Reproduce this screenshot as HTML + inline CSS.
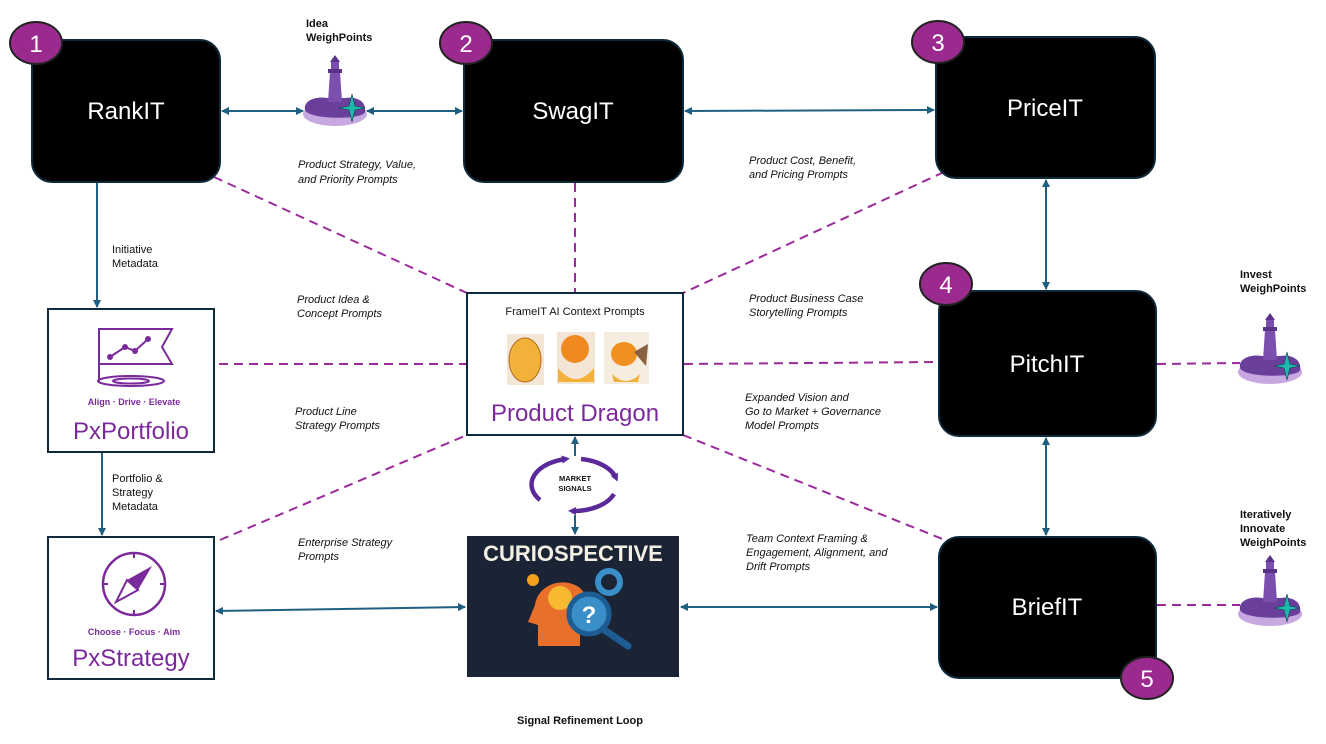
<!DOCTYPE html>
<html><head><meta charset="utf-8"><style>
body{margin:0;background:#fff;}
svg{display:block;font-family:"Liberation Sans",sans-serif;}
.it{font-style:italic;font-size:11px;fill:#111;}
.nm{font-size:11px;fill:#111;}
.bd{font-weight:bold;font-size:11px;fill:#111;}
.big{font-size:24px;fill:#fff;}
.badge{font-size:24px;fill:#fff;}
</style></head><body>
<svg width="1326" height="744" viewBox="0 0 1326 744">
<defs>
<marker id="a" markerWidth="8" markerHeight="8" refX="7" refY="4" orient="auto-start-reverse" markerUnits="userSpaceOnUse"><path d="M0,0 L8,4 L0,8 z" fill="#1f5f7f"/></marker>
<marker id="p" markerWidth="8" markerHeight="8" refX="4" refY="4" orient="auto" markerUnits="userSpaceOnUse"><path d="M0,0 L8,4 L0,8 z" fill="#5a2a9b"/></marker>
<g id="lh">
<ellipse cx="0" cy="4" rx="32" ry="12" fill="#c7a8e0"/>
<path d="M-30,0 C-32,-10 -18,-14 -8,-12 L10,-12 C22,-14 32,-8 30,2 C28,10 -26,10 -30,0z" fill="#6a3f9c"/>
<path d="M-7,-8 L-5,-38 L5,-38 L7,-8z" fill="#7b4fae"/>
<rect x="-7" y="-41" width="14" height="4" fill="#5a3388"/>
<rect x="-4" y="-48" width="8" height="7" fill="#7b4fae"/>
<path d="M-5,-48 L0,-55 L5,-48z" fill="#5a3388"/>
<path d="M17,-16 L20,-4 L30,-2 L20,0 L17,12 L14,0 L4,-2 L14,-4z" fill="#1fb8b0" stroke="#0a4040" stroke-width="0.6"/>
</g>
</defs>

<g stroke="#1f5f7f" stroke-width="2" fill="none">
<line x1="222" y1="111" x2="303" y2="111" marker-start="url(#a)" marker-end="url(#a)"/>
<line x1="367" y1="111" x2="462" y2="111" marker-start="url(#a)" marker-end="url(#a)"/>
<line x1="685" y1="111" x2="934" y2="110" marker-start="url(#a)" marker-end="url(#a)"/>
<line x1="97" y1="183" x2="97" y2="307" marker-end="url(#a)"/>
<line x1="102" y1="453" x2="102" y2="535" marker-end="url(#a)"/>
<line x1="1046" y1="180" x2="1046" y2="289" marker-start="url(#a)" marker-end="url(#a)"/>
<line x1="1046" y1="438" x2="1046" y2="535" marker-start="url(#a)" marker-end="url(#a)"/>
<line x1="216" y1="611" x2="465" y2="607" marker-start="url(#a)" marker-end="url(#a)"/>
<line x1="681" y1="607" x2="937" y2="607" marker-start="url(#a)" marker-end="url(#a)"/>
<line x1="575" y1="456" x2="575" y2="437" marker-end="url(#a)"/>
<line x1="575" y1="515" x2="575" y2="534" marker-end="url(#a)"/>
</g>
<g stroke="#9b2a9b" stroke-width="2" stroke-dasharray="9,6" fill="none">
<line x1="214" y1="177" x2="467" y2="293"/>
<line x1="575" y1="183" x2="575" y2="292"/>
<line x1="944" y1="172" x2="683" y2="293"/>
<line x1="219" y1="364" x2="466" y2="364"/>
<line x1="684" y1="364" x2="938" y2="362"/>
<line x1="220" y1="540" x2="467" y2="435"/>
<line x1="683" y1="435" x2="945" y2="540"/>
<line x1="1157" y1="364" x2="1240" y2="363"/>
<line x1="1157" y1="605" x2="1240" y2="605"/>
</g>

<g fill="#000" stroke="#0e2a3a" stroke-width="2">
<rect x="32" y="40" width="188" height="142" rx="20"/>
<rect x="464" y="40" width="219" height="142" rx="20"/>
<rect x="936" y="37" width="219" height="141" rx="20"/>
<rect x="939" y="291" width="217" height="145" rx="20"/>
<rect x="939" y="537" width="217" height="141" rx="20"/>
</g>
<text class="big" x="126" y="119" text-anchor="middle">RankIT</text>
<text class="big" x="573" y="119" text-anchor="middle">SwagIT</text>
<text class="big" x="1045" y="116" text-anchor="middle">PriceIT</text>
<text class="big" x="1047" y="372" text-anchor="middle">PitchIT</text>
<text class="big" x="1047" y="615" text-anchor="middle">BriefIT</text>

<g fill="#9b2a8f" stroke="#222" stroke-width="2">
<ellipse cx="36" cy="43" rx="26" ry="21"/>
<ellipse cx="466" cy="43" rx="26" ry="21"/>
<ellipse cx="938" cy="42" rx="26" ry="21"/>
<ellipse cx="946" cy="284" rx="26" ry="21"/>
<ellipse cx="1147" cy="678" rx="26" ry="21"/>
</g>
<text class="badge" x="36" y="52" text-anchor="middle">1</text>
<text class="badge" x="466" y="52" text-anchor="middle">2</text>
<text class="badge" x="938" y="51" text-anchor="middle">3</text>
<text class="badge" x="946" y="293" text-anchor="middle">4</text>
<text class="badge" x="1147" y="687" text-anchor="middle">5</text>

<use href="#lh" transform="translate(335,110)"/>
<use href="#lh" transform="translate(1270,368)"/>
<use href="#lh" transform="translate(1270,610)"/>
<text class="bd" x="306" y="27">Idea</text>
<text class="bd" x="306" y="41">WeighPoints</text>
<text class="bd" x="1240" y="278">Invest</text>
<text class="bd" x="1240" y="292">WeighPoints</text>
<text class="bd" x="1240" y="518">Iteratively</text>
<text class="bd" x="1240" y="532">Innovate</text>
<text class="bd" x="1240" y="546">WeighPoints</text>

<rect x="48" y="309" width="166" height="143" fill="#fff" stroke="#0e2a3a" stroke-width="2"/>
<g stroke="#7b2a9b" stroke-width="2" fill="none">
<line x1="99" y1="328" x2="99" y2="383"/>
<path d="M99,329 L172,329 L162,347 L172,364 L99,364"/>
<polyline points="110,357 125,347 135,351 148,339"/>
<ellipse cx="131" cy="381" rx="33" ry="5"/>
<ellipse cx="131" cy="381" rx="18" ry="2.5"/>
</g>
<g fill="#7b2a9b"><circle cx="110" cy="357" r="3"/><circle cx="125" cy="347" r="3"/><circle cx="135" cy="351" r="3"/><circle cx="148" cy="339" r="3"/></g>
<text x="134" y="405" text-anchor="middle" font-size="9" font-weight="bold" fill="#7b2a9b">Align · Drive · Elevate</text>
<text x="131" y="439" text-anchor="middle" font-size="24" fill="#7b2a9b">PxPortfolio</text>

<rect x="48" y="537" width="166" height="142" fill="#fff" stroke="#0e2a3a" stroke-width="2"/>
<circle cx="134" cy="584" r="31" fill="none" stroke="#7b2a9b" stroke-width="2.5"/>
<g stroke="#7b2a9b" stroke-width="2"><line x1="134" y1="553" x2="134" y2="558"/><line x1="134" y1="610" x2="134" y2="615"/><line x1="103" y1="584" x2="108" y2="584"/><line x1="160" y1="584" x2="165" y2="584"/></g>
<path d="M152,566 L138,590 L127,580z" fill="#7b2a9b"/>
<path d="M127,580 L138,590 L116,602z" fill="#fff" stroke="#7b2a9b" stroke-width="2"/>
<text x="134" y="635" text-anchor="middle" font-size="9" font-weight="bold" fill="#7b2a9b">Choose · Focus · Aim</text>
<text x="131" y="666" text-anchor="middle" font-size="24" fill="#7b2a9b">PxStrategy</text>

<rect x="467" y="293" width="216" height="142" fill="#fff" stroke="#0e2a3a" stroke-width="2"/>
<text x="575" y="315" text-anchor="middle" class="nm">FrameIT AI Context Prompts</text>
<rect x="507" y="334" width="37" height="51" fill="#f3e6d6"/>
<ellipse cx="525" cy="360" rx="16" ry="22" fill="#f2b23a" stroke="#b06a1a"/>
<rect x="557" y="332" width="38" height="52" fill="#f3e6d6"/>
<ellipse cx="575" cy="349" rx="14" ry="14" fill="#f08a20"/>
<path d="M558,368 Q576,390 594,368 L594,382 L558,382z" fill="#f2b23a"/>
<rect x="604" y="332" width="45" height="52" fill="#f6ece0"/>
<ellipse cx="624" cy="354" rx="13" ry="12" fill="#f0901e"/>
<path d="M612,374 Q626,388 640,374 L638,382 L614,382z" fill="#f2b23a"/>
<path d="M634,352 L648,344 L646,366z" fill="#8a6040"/>
<text x="575" y="421" text-anchor="middle" font-size="24" fill="#7b2a9b">Product Dragon</text>

<g fill="none" stroke="#5a2a9b" stroke-width="4.5">
<path d="M581,459 A43,26 0 0 1 616,478" marker-end="url(#p)"/>
<path d="M614,494 A43,26 0 0 1 572,511" marker-end="url(#p)"/>
<path d="M540,500 A43,26 0 0 1 566,459" marker-end="url(#p)"/>
</g>
<text x="575" y="481" text-anchor="middle" font-size="7.5" font-weight="bold" fill="#111">MARKET</text>
<text x="575" y="491" text-anchor="middle" font-size="7.5" font-weight="bold" fill="#111">SIGNALS</text>

<rect x="467" y="536" width="212" height="141" fill="#1b2435"/>
<text x="573" y="561" text-anchor="middle" font-size="22" font-weight="bold" fill="#f4efe4">CURIOSPECTIVE</text>
<circle cx="533" cy="580" r="6" fill="#f2a21e"/>
<path d="M538,646 L538,625 L528,622 L535,605 C538,585 560,578 575,585 C590,592 592,612 580,625 L580,646z" fill="#e8702a"/>
<circle cx="560" cy="598" r="12" fill="#f6b930"/>
<circle cx="609" cy="582" r="11" fill="none" stroke="#3a8fc8" stroke-width="6"/>
<circle cx="589" cy="614" r="20" fill="#3a8fc8" stroke="#1d5d94" stroke-width="5"/>
<text x="589" y="623" text-anchor="middle" font-size="24" font-weight="bold" fill="#fff">?</text>
<line x1="603" y1="629" x2="628" y2="646" stroke="#1d5d94" stroke-width="7" stroke-linecap="round"/>
<text x="580" y="724" text-anchor="middle" class="bd">Signal Refinement Loop</text>

<text class="it" x="298" y="168">Product Strategy, Value,</text>
<text class="it" x="298" y="183">and Priority Prompts</text>
<text class="it" x="749" y="164">Product Cost, Benefit,</text>
<text class="it" x="749" y="178">and Pricing Prompts</text>
<text class="nm" x="112" y="253">Initiative</text>
<text class="nm" x="112" y="267">Metadata</text>
<text class="it" x="297" y="303">Product Idea &amp;</text>
<text class="it" x="297" y="317">Concept Prompts</text>
<text class="it" x="749" y="302">Product Business Case</text>
<text class="it" x="749" y="316">Storytelling Prompts</text>
<text class="it" x="295" y="415">Product Line</text>
<text class="it" x="295" y="429">Strategy Prompts</text>
<text class="it" x="745" y="401">Expanded Vision and</text>
<text class="it" x="745" y="415">Go to Market + Governance</text>
<text class="it" x="745" y="429">Model Prompts</text>
<text class="nm" x="112" y="482">Portfolio &amp;</text>
<text class="nm" x="112" y="496">Strategy</text>
<text class="nm" x="112" y="510">Metadata</text>
<text class="it" x="298" y="546">Enterprise Strategy</text>
<text class="it" x="298" y="560">Prompts</text>
<text class="it" x="746" y="542">Team Context Framing &amp;</text>
<text class="it" x="746" y="556">Engagement, Alignment, and</text>
<text class="it" x="746" y="570">Drift Prompts</text>
</svg>
</body></html>
